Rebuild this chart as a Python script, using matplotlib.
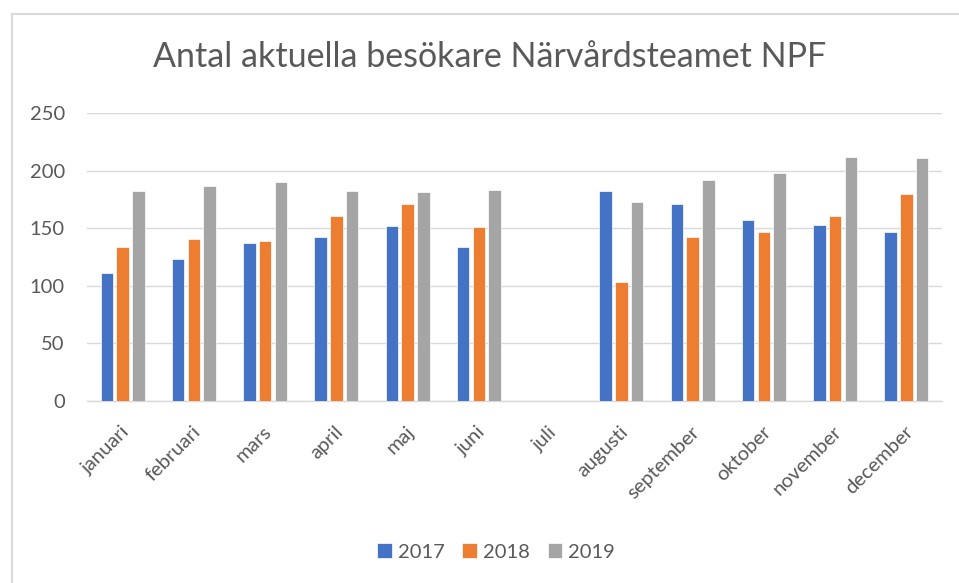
import matplotlib
matplotlib.use("Agg")
import matplotlib.pyplot as plt
from matplotlib.transforms import ScaledTranslation
import numpy as np

months = ["januari", "februari", "mars", "april", "maj", "juni", "juli",
          "augusti", "september", "oktober", "november", "december"]
years = ["2017", "2018", "2019"]
v2017 = [111, 123, 137, 142, 152, 134, np.nan, 182, 171, 157, 153, 147]
v2018 = [134, 141, 139, 161, 171, 151, np.nan, 103, 142, 147, 161, 180]
v2019 = [182, 187, 190, 182, 181, 183, np.nan, 173, 192, 198, 212, 211]
colors = ["#4472C4", "#ED7D31", "#A5A5A5"]

plt.rcParams["font.family"] = ["Lato", "DejaVu Sans"]
text_col = "#595959"
grid_col = "#d9d9d9"

W, H = 959, 583
fig = plt.figure(figsize=(W / 100, H / 100), dpi=100)

# outer chart border (right and bottom edges fall outside the image)
fig.add_artist(plt.Rectangle((12 / W, -0.05), 1.2, 1 - 14 / H + 0.05,
                             transform=fig.transFigure, fill=False,
                             edgecolor=grid_col, linewidth=1.5))

ax = fig.add_axes([87 / W, 1 - 401 / H, (942 - 87) / W, (401 - 113) / H])

x = np.arange(len(months))
width = 0.175
step = 0.222
for i, (vals, yr) in enumerate(zip([v2017, v2018, v2019], years)):
    ax.bar(x + (i - 1) * step, vals, width, color=colors[i], label=yr,
           edgecolor="white", linewidth=0.5, zorder=3)

ax.set_xlim(-0.5, len(months) - 0.5)
ax.set_ylim(0, 250)
ax.set_yticks(range(0, 251, 50))
ax.grid(axis="y", color=grid_col, linewidth=1.0, zorder=0)
for s in ["top", "right", "left"]:
    ax.spines[s].set_visible(False)
ax.spines["bottom"].set_color(grid_col)
ax.spines["bottom"].set_linewidth(1.0)
ax.tick_params(axis="both", length=0, colors=text_col, labelsize=14.5)
ax.tick_params(axis="y", pad=16)
ax.set_xticks(x)
ax.set_xticklabels(months, rotation=45, ha="right", va="top",
                   rotation_mode="anchor")
ax.tick_params(axis="x", pad=16)
shift = ScaledTranslation(-2 / 100, 0, fig.dpi_scale_trans)
for lab in ax.get_xticklabels():
    lab.set_transform(lab.get_transform() + shift)

fig.text(490 / W, 1 - 66.7 / H, "Antal aktuella besökare Närvårdsteamet NPF",
         ha="center", va="baseline", fontsize=24.5, color=text_col)

fig.legend(loc="center", bbox_to_anchor=(496 / W, 1 - 552 / H), ncol=3,
           frameon=False, fontsize=14.5, handlelength=0.7, handleheight=0.7,
           handletextpad=0.3, columnspacing=0.9, labelcolor=text_col)

plt.savefig("out.png", dpi=100, facecolor="white")
